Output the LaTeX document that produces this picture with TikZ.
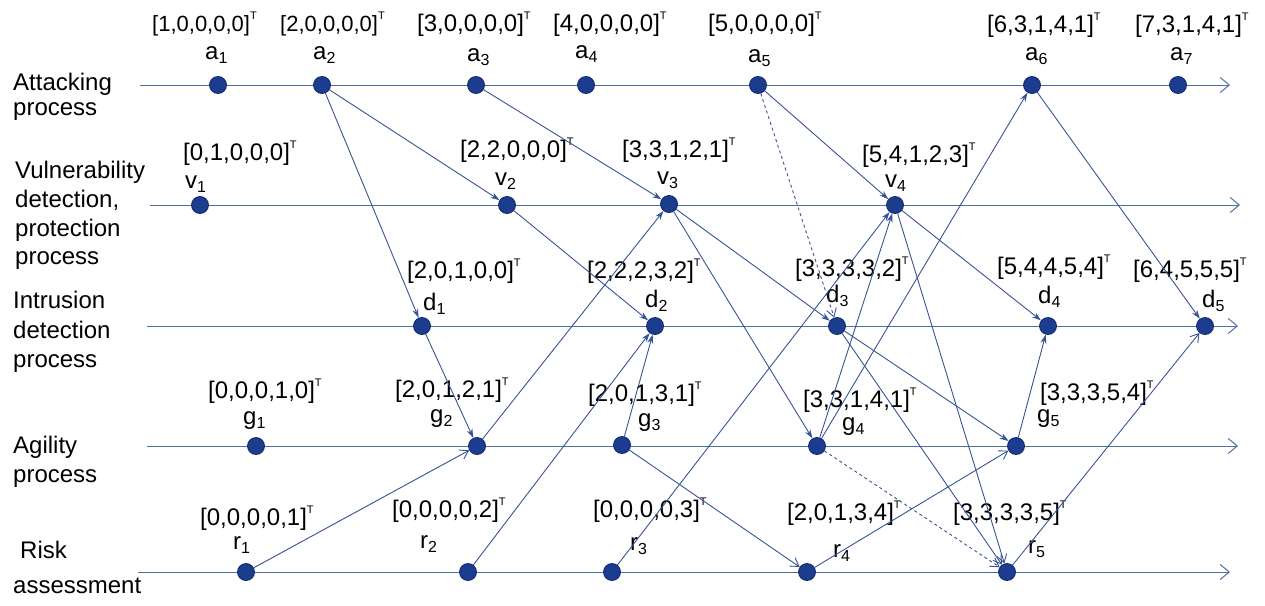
\documentclass[tikz,border=0pt]{standalone}
\usepackage{fontspec}
\setmainfont{Liberation Sans}
\usetikzlibrary{arrows.meta}
\definecolor{axisblue}{RGB}{80,110,165}
\definecolor{linkblue}{RGB}{55,84,148}
\definecolor{dotblue}{RGB}{28,60,142}
\definecolor{dotedge}{RGB}{18,40,110}
% transpose mark and index helpers
\newcommand\vT{\raisebox{12pt}{\fontsize{11}{11}\selectfont T}}
\newcommand\idx[1]{\raisebox{-4pt}{\fontsize{16}{16}\selectfont #1}}
\begin{document}
\begin{tikzpicture}[x=1pt,y=-1pt,
  ev/.style={circle,fill=dotblue,draw=dotedge,line width=0.8pt,minimum size=17pt,inner sep=0pt},
  vec/.style={font=\fontsize{24}{24}\selectfont,inner sep=0pt,anchor=base west},
  vecs/.style={vec,font=\fontsize{22}{22}\selectfont},
  nm/.style={font=\fontsize{24}{24}\selectfont,inner sep=0pt,anchor=base west},
  lane/.style={font=\fontsize{24}{24}\selectfont,inner sep=0pt,anchor=base west},
  axis/.style={draw=axisblue,line width=1pt,-{Straight Barb[length=9pt,width=15pt]}},
  link/.style={draw=linkblue,line width=0.9pt,-{Stealth[length=9pt,width=6pt]}},
  linko/.style={draw=linkblue,line width=0.9pt,-{Straight Barb[length=8pt,width=10pt]}},
  hint/.style={linko,dashed}]
\useasboundingbox (0,0) rectangle (1265,605);

% process names
\node[lane] (l1a) at (13,90) {Attacking};
\node[lane] (l1b) at (13,115) {process};
\node[lane] (l2a) at (15,178) {Vulnerability};
\node[lane] (l2b) at (15,207) {detection,};
\node[lane] (l2c) at (15,236) {protection};
\node[lane] (l2d) at (15,264) {process};
\node[lane] (l3a) at (13,308) {Intrusion};
\node[lane] (l3b) at (13,338) {detection};
\node[lane] (l3c) at (13,367) {process};
\node[lane] (l4a) at (13,453) {Agility};
\node[lane] (l4b) at (13,482) {process};
\node[lane] (l5a) at (20,558) {Risk};
\node[lane] (l5b) at (13,593) {assessment};

% time axes
\coordinate (sa) at (140,85);  \coordinate (ea) at (1230,85);
\coordinate (sv) at (150,205); \coordinate (ev) at (1240,205);
\coordinate (sd) at (147,326); \coordinate (ed) at (1238,326);
\coordinate (sg) at (147,446); \coordinate (eg) at (1238,446);
\coordinate (sr) at (138,572); \coordinate (er) at (1230,572);
\draw[axis] (sa) -- (ea);
\draw[axis] (sv) -- (ev);
\draw[axis] (sd) -- (ed);
\draw[axis] (sg) -- (eg);
\draw[axis] (sr) -- (er);

% events
\node[ev] (a1) at (218,85) {};
\node[ev] (a2) at (322,85) {};
\node[ev] (a3) at (476,85) {};
\node[ev] (a4) at (586,85) {};
\node[ev] (a5) at (758,85) {};
\node[ev] (a6) at (1032,85) {};
\node[ev] (a7) at (1178,85) {};
\node[ev] (v1) at (200,205) {};
\node[ev] (v2) at (507,205) {};
\node[ev] (v3) at (669,204) {};
\node[ev] (v4) at (895,205) {};
\node[ev] (d1) at (422,326) {};
\node[ev] (d2) at (655,326) {};
\node[ev] (d3) at (837,326) {};
\node[ev] (d4) at (1048,326) {};
\node[ev] (d5) at (1205,326) {};
\node[ev] (g1) at (256,446) {};
\node[ev] (g2) at (477,446) {};
\node[ev] (g3) at (622,445) {};
\node[ev] (g4) at (817,446) {};
\node[ev] (g5) at (1016,446) {};
\node[ev] (r1) at (246,572) {};
\node[ev] (r2) at (468,572) {};
\node[ev] (r3) at (612,572) {};
\node[ev] (r4) at (807,572) {};
\node[ev] (r5) at (1007,572) {};

% state vectors
\node[vecs] (a1v) at (152,31) {[1,0,0,0,0]\vT};
\node[vecs] (a2v) at (280,31) {[2,0,0,0,0]\vT};
\node[vec] (a3v) at (417,31) {[3,0,0,0,0]\vT};
\node[vec] (a4v) at (553,31) {[4,0,0,0,0]\vT};
\node[vec] (a5v) at (708,31) {[5,0,0,0,0]\vT};
\node[vec] (a6v) at (987,32) {[6,3,1,4,1]\vT};
\node[vec] (a7v) at (1135,32) {[7,3,1,4,1]\vT};
\node[vec] (v1v) at (183,160) {[0,1,0,0,0]\vT};
\node[vec] (v2v) at (460,157) {[2,2,0,0,0]\vT};
\node[vec] (v3v) at (622,157) {[3,3,1,2,1]\vT};
\node[vec] (v4v) at (862,162) {[5,4,1,2,3]\vT};
\node[vec] (d1v) at (407,278) {[2,0,1,0,0]\vT};
\node[vec] (d2v) at (587,278) {[2,2,2,3,2]\vT};
\node[vec] (d3v) at (795,276) {[3,3,3,3,2]\vT};
\node[vec] (d4v) at (997,274) {[5,4,4,5,4]\vT};
\node[vec] (d5v) at (1133,277) {[6,4,5,5,5]\vT};
\node[vec] (g1v) at (208,398) {[0,0,0,1,0]\vT};
\node[vec] (g2v) at (395,397) {[2,0,1,2,1]\vT};
\node[vec] (g3v) at (588,401) {[2,0,1,3,1]\vT};
\node[vec] (g4v) at (803,407) {[3,3,1,4,1]\vT};
\node[vec] (g5v) at (1040,400) {[3,3,3,5,4]\vT};
\node[vec] (r1v) at (200,525) {[0,0,0,0,1]\vT};
\node[vec] (r2v) at (392,517) {[0,0,0,0,2]\vT};
\node[vec] (r3v) at (593,517) {[0,0,0,0,3]\vT};
\node[vec] (r4v) at (787,520) {[2,0,1,3,4]\vT};
\node[vec] (r5v) at (953,520) {[3,3,3,3,5]\vT};

% event names
\node[nm] (a1n) at (205,59) {a\idx{1}};
\node[nm] (a2n) at (313,59) {a\idx{2}};
\node[nm] (a3n) at (467,61) {a\idx{3}};
\node[nm] (a4n) at (575,58) {a\idx{4}};
\node[nm] (a5n) at (748,62) {a\idx{5}};
\node[nm] (a6n) at (1025,60) {a\idx{6}};
\node[nm] (a7n) at (1170,60) {a\idx{7}};
\node[nm] (v1n) at (185,188) {v\idx{1}};
\node[nm] (v2n) at (495,185) {v\idx{2}};
\node[nm] (v3n) at (657,184) {v\idx{3}};
\node[nm] (v4n) at (885,187) {v\idx{4}};
\node[nm] (d1n) at (423,310) {d\idx{1}};
\node[nm] (d2n) at (645,307) {d\idx{2}};
\node[nm] (d3n) at (826,302) {d\idx{3}};
\node[nm] (d4n) at (1038,303) {d\idx{4}};
\node[nm] (d5n) at (1202,307) {d\idx{5}};
\node[nm] (g1n) at (243,424) {g\idx{1}};
\node[nm] (g2n) at (430,422) {g\idx{2}};
\node[nm] (g3n) at (638,426) {g\idx{3}};
\node[nm] (g4n) at (842,430) {g\idx{4}};
\node[nm] (g5n) at (1037,422) {g\idx{5}};
\node[nm] (r1n) at (233,549) {r\idx{1}};
\node[nm] (r2n) at (420,548) {r\idx{2}};
\node[nm] (r3n) at (630,550) {r\idx{3}};
\node[nm] (r4n) at (833,557) {r\idx{4}};
\node[nm] (r5n) at (1028,553) {r\idx{5}};

% causal links
\draw[link] (a2) -- (v2);
\draw[link] (a2) -- (d1);
\draw[link] (a3) -- (v3);
\draw[link] (a5) -- (v4);
\draw[hint] (a5) -- (d3);
\draw[link] (a6) -- (d5);
\draw[link] (v2) -- (d2);
\draw[link] (v3) -- (d3);
\draw[link] (v3) -- (g4);
\draw[link] (v4) -- (d4);
\draw[linko] (v4) -- (r5);
\draw[link] (d1) -- (g2);
\draw[link] (d3) -- (g5);
\draw[linko] (d3) -- (r5);
\draw[link] (g2) -- (v3);
\draw[link] (g3) -- (d2);
\draw[linko] (g3) -- (r4);
\draw[link] (g4) -- (v4);
\draw[link] (g4) -- (a6);
\draw[hint] (g4) -- (r5);
\draw[link] (g5) -- (d4);
\draw[linko] (r1) -- (g2);
\draw[link] (r2) -- (d2);
\draw[link] (r3) -- (v4);
\draw[linko] (r4) -- (g5);
\draw[linko] (r5) -- (d5);
\end{tikzpicture}
\end{document}
